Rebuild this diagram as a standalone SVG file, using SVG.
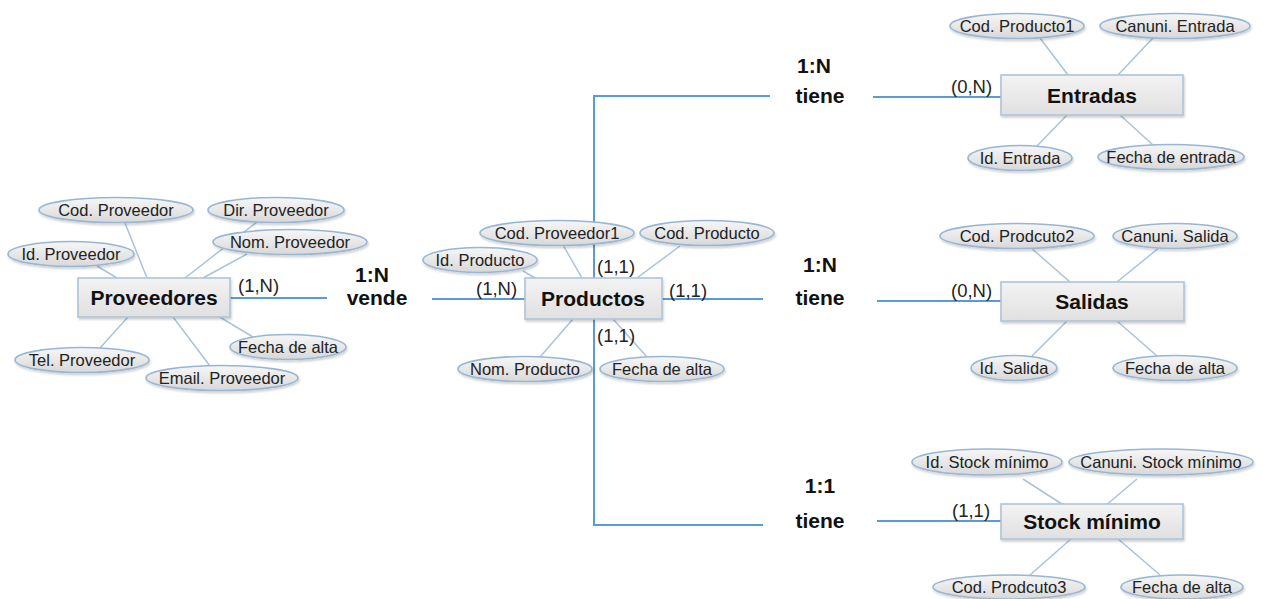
<svg xmlns="http://www.w3.org/2000/svg" width="1263" height="599" viewBox="0 0 1263 599">
<defs>
<linearGradient id="eg" x1="0" y1="0" x2="0" y2="1"><stop offset="0" stop-color="#f7f7f7"/><stop offset="1" stop-color="#d8d8d8"/></linearGradient>
<linearGradient id="bg" x1="0" y1="0" x2="0" y2="1"><stop offset="0" stop-color="#f3f3f3"/><stop offset="1" stop-color="#e0e0e0"/></linearGradient>
<filter id="sh" x="-10%" y="-20%" width="120%" height="150%"><feDropShadow dx="1" dy="2" stdDeviation="1.2" flood-color="#000" flood-opacity="0.18"/></filter>
<style>
.attr ellipse{fill:url(#eg);stroke:#97b6d4;stroke-width:1.6;filter:url(#sh)}
.attr text{font-family:"Liberation Sans",Arial,sans-serif;font-size:16.5px;fill:#222;text-anchor:middle}
.ent rect{fill:url(#bg);stroke:#aec3d9;stroke-width:1.6;filter:url(#sh)}
.ent text{font-family:"Liberation Sans",Arial,sans-serif;font-size:21px;font-weight:bold;fill:#111;text-anchor:middle}
.rel text{font-family:"Liberation Sans",Arial,sans-serif;font-size:21px;font-weight:bold;fill:#111;text-anchor:middle}
.card{font-family:"Liberation Sans",Arial,sans-serif;font-size:18.5px;fill:#222}
.main{stroke:#5b9bd5;stroke-width:2;fill:none}
.al{stroke:#a9c3dc;stroke-width:1.5;fill:none}
</style>
</defs>
<rect width="1263" height="599" fill="#fff"/>

<g id="connectors">
<path class="al" d="M125,223L147,278M97,266L117,278M257,222L185,278M247,254L203,278M213,313L253,337M173,317L210,366M128,317L100,348"/>
<path class="al" d="M563,245L582,278M680,246L637,278M523,271L535,278M573,319L540,357M613,319L647,357"/>
<path class="al" d="M1040,38L1068,75M1153,38L1118,75M1067,115L1037,146M1120,115L1153,145"/>
<path class="al" d="M1030,247L1070,282M1160,247L1117,282M1067,321L1032,356M1117,321L1157,356"/>
<path class="al" d="M1023,479L1065,506M1137,479L1105,506M1072,538L1030,575M1117,538L1160,575"/>
<path class="main" d="M230,298H327"/>
<path class="main" d="M432,299H525"/>
<path class="main" d="M770,96H594V525H763"/>
<path class="main" d="M662,299H763"/>
<path class="main" d="M873,97H1001"/>
<path class="main" d="M877,301H1001"/>
<path class="main" d="M877,521H1001"/>
<text class="card" x="238" y="292">(1,N)</text>
<text class="card" x="476" y="295">(1,N)</text>
<text class="card" x="597" y="273">(1,1)</text>
<text class="card" x="669" y="297">(1,1)</text>
<text class="card" x="597" y="342">(1,1)</text>
<text class="card" x="951" y="93">(0,N)</text>
<text class="card" x="951" y="297">(0,N)</text>
<text class="card" x="952" y="517">(1,1)</text>
</g>

<g id="rel-vende" class="rel"><text x="372" y="282">1:N</text><text x="377" y="305">vende</text></g>
<g id="rel-tiene-entradas" class="rel"><text x="814" y="73">1:N</text><text x="820" y="103">tiene</text></g>
<g id="rel-tiene-salidas" class="rel"><text x="820" y="272">1:N</text><text x="820" y="305">tiene</text></g>
<g id="rel-tiene-stock" class="rel"><text x="820" y="493">1:1</text><text x="820" y="528">tiene</text></g>

<g id="proveedores">
<g class="ent"><rect x="78" y="278" width="152" height="39"/><text x="154" y="305">Proveedores</text></g>
<g class="attr">
<ellipse cx="116" cy="210" rx="77" ry="12.5"/><text x="116" y="216">Cod. Proveedor</text>
<ellipse cx="276" cy="210" rx="68" ry="12.5"/><text x="276" y="216">Dir. Proveedor</text>
<ellipse cx="71" cy="254" rx="63" ry="12.5"/><text x="71" y="260">Id. Proveedor</text>
<ellipse cx="290" cy="242" rx="77" ry="12.5"/><text x="290" y="248">Nom. Proveedor</text>
<ellipse cx="82" cy="360" rx="67" ry="12.5"/><text x="82" y="366">Tel. Proveedor</text>
<ellipse cx="222" cy="378" rx="76" ry="12.5"/><text x="222" y="384">Email. Proveedor</text>
<ellipse cx="288" cy="347" rx="58" ry="12.5"/><text x="288" y="353">Fecha de alta</text>
</g>
</g>

<g id="productos">
<g class="ent"><rect x="525" y="278" width="137" height="41"/><text x="593" y="306">Productos</text></g>
<g class="attr">
<ellipse cx="557" cy="233" rx="77" ry="12.5"/><text x="557" y="239">Cod. Proveedor1</text>
<ellipse cx="707" cy="233" rx="67" ry="12.5"/><text x="707" y="239">Cod. Producto</text>
<ellipse cx="480" cy="260" rx="57" ry="12.5"/><text x="480" y="266">Id. Producto</text>
<ellipse cx="525" cy="369" rx="67" ry="12.5"/><text x="525" y="375">Nom. Producto</text>
<ellipse cx="662" cy="369" rx="62" ry="12.5"/><text x="662" y="375">Fecha de alta</text>
</g>
</g>

<g id="entradas">
<g class="ent"><rect x="1001" y="75" width="182" height="40"/><text x="1092" y="103">Entradas</text></g>
<g class="attr">
<ellipse cx="1017" cy="26" rx="67" ry="12.5"/><text x="1017" y="32">Cod. Producto1</text>
<ellipse cx="1175" cy="26" rx="75" ry="12.5"/><text x="1175" y="32">Canuni. Entrada</text>
<ellipse cx="1020" cy="158" rx="52" ry="12.5"/><text x="1020" y="164">Id. Entrada</text>
<ellipse cx="1171" cy="157" rx="73" ry="12.5"/><text x="1171" y="163">Fecha de entrada</text>
</g>
</g>

<g id="salidas">
<g class="ent"><rect x="1001" y="282" width="183" height="39"/><text x="1092" y="309">Salidas</text></g>
<g class="attr">
<ellipse cx="1017" cy="236" rx="77" ry="12.5"/><text x="1017" y="242">Cod. Prodcuto2</text>
<ellipse cx="1175" cy="236" rx="62" ry="12.5"/><text x="1175" y="242">Canuni. Salida</text>
<ellipse cx="1014" cy="368" rx="43" ry="12.5"/><text x="1014" y="374">Id. Salida</text>
<ellipse cx="1175" cy="368" rx="62" ry="12.5"/><text x="1175" y="374">Fecha de alta</text>
</g>
</g>

<g id="stock">
<g class="ent"><rect x="1001" y="504" width="182" height="35"/><text x="1092" y="529">Stock mínimo</text></g>
<g class="attr">
<ellipse cx="987" cy="462" rx="75" ry="13"/><text x="987" y="468">Id. Stock mínimo</text>
<ellipse cx="1161" cy="462" rx="92" ry="13"/><text x="1161" y="468">Canuni. Stock mínimo</text>
<ellipse cx="1009" cy="587" rx="76" ry="12"/><text x="1009" y="593">Cod. Prodcuto3</text>
<ellipse cx="1182" cy="587" rx="61" ry="12"/><text x="1182" y="593">Fecha de alta</text>
</g>
</g>
</svg>
